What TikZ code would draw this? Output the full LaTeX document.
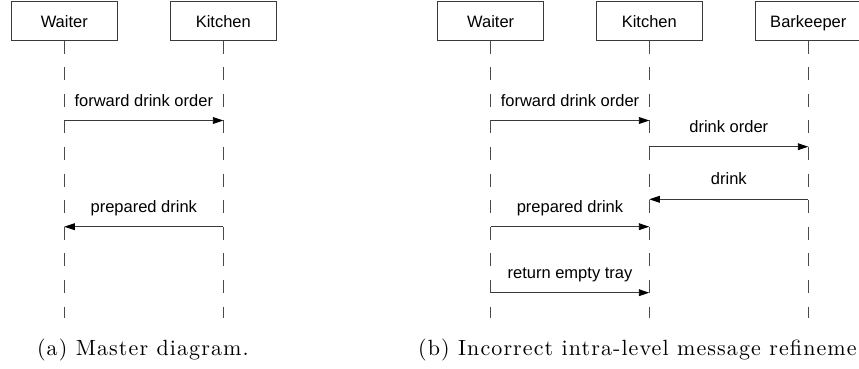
\documentclass[tikz,border=0pt]{standalone}
\usepackage{fontspec}
\usetikzlibrary{arrows.meta}
\newfontfamily\lblfont{Liberation Sans}
\newfontfamily\capfont[LetterSpace=5]{lmroman10-regular.otf}
\definecolor{linegray}{HTML}{3A3A3A}
\definecolor{lifegray}{HTML}{4A4A4A}
\tikzset{
  actor/.style={draw=linegray, line width=0.9pt, minimum width=106pt, minimum height=39pt,
    inner sep=0pt, font=\lblfont\fontsize{16.5}{18}\selectfont, text height=13.6pt, text depth=0pt},
  lifeline/.style={draw=lifegray, line width=0.9pt, dash pattern=on 13pt off 13.6pt},
  msg/.style={draw=linegray, line width=0.9pt,
    -{Triangle[length=10.5pt,width=6.8pt,color=black]}},
  msglabel/.style={midway, anchor=base, yshift=14.5pt, inner sep=0pt,
    font=\lblfont\fontsize{16.5}{18}\selectfont},
  caption/.style={inner sep=0pt, font=\capfont\fontsize{22}{26}\selectfont}
}
\begin{document}
\begin{tikzpicture}[x=1pt, y=-1pt]
  \useasboundingbox (0,0) rectangle (859,369);
  \clip (0,0) rectangle (859,369);

  % (a) master diagram
  \node[actor] (wa) at (64.3,20.6) {Waiter};
  \node[actor] (ka) at (223.3,20.6) {Kitchen};
  \coordinate (wa-end) at (64.3,318);
  \coordinate (ka-end) at (223.3,318);
  \draw[lifeline] (wa.south) -- (wa-end);
  \draw[lifeline] (ka.south) -- (ka-end);

  \coordinate (wa1) at (64.3,120.5);   \coordinate (ka1) at (223.3,120.5);
  \coordinate (wa2) at (64.3,226.7);   \coordinate (ka2) at (223.3,226.7);
  \draw[msg] (wa1) -- node[msglabel] {forward drink order} (ka1);
  \draw[msg] (ka2) -- node[msglabel] {prepared drink} (wa2);

  \node[caption, anchor=base] (capa) at (142.9,355) {(a) Master diagram.};

  % (b) refinement with a barkeeper
  \node[actor] (wb) at (490.7,20.6) {Waiter};
  \node[actor] (kb) at (649.3,20.6) {Kitchen};
  \node[actor] (bb) at (808.3,20.6) {Barkeeper};
  \coordinate (wb-end) at (490.7,318);
  \coordinate (kb-end) at (649.3,318);
  \coordinate (bb-end) at (808.3,318);
  \draw[lifeline] (wb.south) -- (wb-end);
  \draw[lifeline] (kb.south) -- (kb-end);
  \draw[lifeline] (bb.south) -- (bb-end);

  \coordinate (wb1) at (490.7,120.5);  \coordinate (kb1) at (649.3,120.5);
  \coordinate (kb2) at (649.3,146.7);  \coordinate (bb2) at (808.3,146.7);
  \coordinate (kb3) at (649.3,199.3);  \coordinate (bb3) at (808.3,199.3);
  \coordinate (wb4) at (490.7,226.7);  \coordinate (kb4) at (649.3,226.7);
  \coordinate (wb5) at (490.7,292.7);  \coordinate (kb5) at (649.3,292.7);
  \draw[msg] (wb1) -- node[msglabel] {forward drink order} (kb1);
  \draw[msg] (kb2) -- node[msglabel] {drink order} (bb2);
  \draw[msg] (bb3) -- node[msglabel] {drink} (kb3);
  \draw[msg] (wb4) -- node[msglabel] {prepared drink} (kb4);
  \draw[msg] (wb5) -- node[msglabel] {return empty tray} (kb5);

  \node[caption, anchor=base west] (capb) at (418,355) {(b) Incorrect intra-level message refineme};
\end{tikzpicture}
\end{document}
